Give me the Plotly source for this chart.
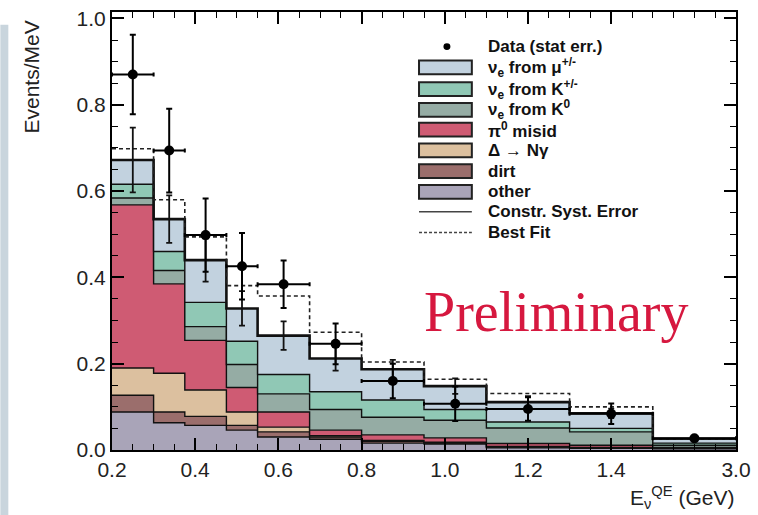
import numpy as np
import plotly.graph_objects as go

# ---------------- data ----------------
edges = [0.2, 0.3, 0.375, 0.475, 0.55, 0.675, 0.8, 0.95, 1.1, 1.3, 1.5, 3.0]

other = [0.088, 0.063, 0.057, 0.046, 0.030, 0.025, 0.016, 0.014, 0.005, 0.004, 0.003]
dirt  = [0.039, 0.025, 0.021, 0.011, 0.012, 0.005, 0.004, 0.002, 0.002, 0.001, 0.001]
delta = [0.063, 0.090, 0.061, 0.031, 0.011, 0.003, 0.002, 0.002, 0.001, 0.001, 0.000]
pi0   = [0.378, 0.207, 0.115, 0.057, 0.035, 0.013, 0.013, 0.010, 0.007, 0.005, 0.002]
k0    = [0.016, 0.031, 0.032, 0.053, 0.042, 0.048, 0.041, 0.041, 0.036, 0.031, 0.005]
kpm   = [0.032, 0.044, 0.056, 0.054, 0.045, 0.041, 0.040, 0.025, 0.014, 0.008, 0.005]
mu    = [0.056, 0.075, 0.098, 0.076, 0.090, 0.077, 0.071, 0.054, 0.046, 0.035, 0.010]

data_vals = [0.870, 0.694, 0.498, 0.426, 0.384, 0.246, 0.160, 0.107, 0.095, 0.084, 0.027]
data_err  = [0.092, 0.097, 0.085, 0.077, 0.055, 0.047, 0.040, 0.040, 0.027, 0.024, 0.005]
best_fit  = [0.698, 0.580, 0.494, 0.381, 0.357, 0.273, 0.204, 0.164, 0.131, 0.100, 0.026]
syst_err  = [0.075, 0.055, 0.050, 0.040, 0.033, 0.028, 0.022, 0.018, 0.014, 0.011, 0.004]

tick_labels = ["0.2", "0.4", "0.6", "0.8", "1.0", "1.2", "1.4", "3.0"]
tick_energies = [0.2, 0.4, 0.6, 0.8, 1.0, 1.2, 1.4, 3.0]

components = [
    ("other", other, "#a9a4b8"),
    ("dirt", dirt, "#9b6e6c"),
    ("Δ → Nγ", delta, "#dcc09f"),
    ("π<sup>0</sup> misid", pi0, "#cf5b73"),
    ("ν<sub>e</sub> from K<sup>0</sup>", k0, "#95aca4"),
    ("ν<sub>e</sub> from K<sup>+/-</sup>", kpm, "#90c8b5"),
    ("ν<sub>e</sub> from μ<sup>+/-</sup>", mu, "#c2d2df"),
]

# piecewise energy scale: last bin (1.5-3.0 GeV) compressed
def u(e):
    e = np.asarray(e, dtype=float)
    return np.where(e <= 1.5, e, 1.5 + (e - 1.5) * 0.2 / 1.5)

ue = u(edges)
centers = 0.5 * (ue[:-1] + ue[1:])
halfw = 0.5 * (ue[1:] - ue[:-1])

fig = go.Figure()

cum = np.zeros(len(other))
for i, (name, vals, col) in enumerate(components):
    cum = cum + np.array(vals)
    ys = list(cum) + [cum[-1]]
    is_top = (i == len(components) - 1)
    fig.add_trace(go.Scatter(
        x=ue, y=ys, mode="lines", line_shape="hv",
        line=dict(color="#111111", width=2.6 if is_top else 1.4),
        fill="tozeroy" if i == 0 else "tonexty", fillcolor=col,
        name=name, hoverinfo="skip"))

total = cum

# best fit dashed
fig.add_trace(go.Scatter(
    x=ue, y=list(best_fit) + [best_fit[-1]], mode="lines", line_shape="hv",
    line=dict(color="#222222", width=1.6, dash="4px,3px"),
    name="Best Fit", hoverinfo="skip"))

# constrained syst error bars on MC total
fig.add_trace(go.Scatter(
    x=centers, y=total, mode="markers", marker=dict(size=1, color="rgba(0,0,0,0)"),
    error_y=dict(type="data", array=syst_err, color="#111111", thickness=1.8, width=3),
    name="Constr. Syst. Error", hoverinfo="skip"))

# data
fig.add_trace(go.Scatter(
    x=centers, y=data_vals, mode="markers",
    marker=dict(color="black", size=10),
    error_y=dict(type="data", array=data_err, color="black", thickness=2, width=3),
    error_x=dict(type="data", array=halfw, color="black", thickness=2, width=2),
    name="Data (stat err.)"))

# ---------------- manual legend (pixel layout -> paper coords) ----------------
PL, PR, PT, PB = 112, 738, 7, 450
def px(xp):
    return (xp - PL) / (PR - PL)
def py(yp):
    return (PB - yp) / (PB - PT)

leg_font = dict(family="Liberation Sans", size=17, color="#111111", weight="bold")
text_x = 487
box_x0, box_x1 = 420, 473

def leg_text(label, yc):
    fig.add_annotation(text=label, xref="paper", yref="paper",
                       x=px(text_x), y=py(yc), xanchor="left", yanchor="middle",
                       showarrow=False, font=leg_font)

# data entry
fig.add_shape(type="circle", xref="paper", yref="paper",
              x0=px(444.5), x1=px(451.5), y0=py(45.5), y1=py(38.5),
              fillcolor="black", line=dict(color="black", width=0))
leg_text("Data (stat err.)", 42)

box_rows = [63, 85, 106, 126, 147, 168, 189]
for (name, vals, col), yc in zip(components[::-1], box_rows):
    fig.add_shape(type="rect", xref="paper", yref="paper",
                  x0=px(box_x0), x1=px(box_x1), y0=py(yc + 7), y1=py(yc - 7),
                  fillcolor=col, line=dict(color="#222222", width=2))
    leg_text(name, yc)

fig.add_shape(type="line", xref="paper", yref="paper",
              x0=px(box_x0), x1=px(box_x1), y0=py(209), y1=py(209),
              line=dict(color="#444444", width=1.5))
leg_text("Constr. Syst. Error", 209)
fig.add_shape(type="line", xref="paper", yref="paper",
              x0=px(box_x0), x1=px(box_x1), y0=py(230), y1=py(230),
              line=dict(color="#444444", width=1.5, dash="3px,2px"))
leg_text("Best Fit", 230)

# ---------------- other text ----------------
fig.add_annotation(text="Preliminary", xref="paper", yref="paper",
                   x=0.711, y=0.316, xanchor="center", yanchor="middle",
                   showarrow=False,
                   font=dict(family="Liberation Serif", size=56, color="#d6183f"))

fig.add_annotation(text="Events/MeV", xref="paper", yref="paper",
                   x=px(31), y=py(73), xanchor="center", yanchor="middle",
                   textangle=-90, showarrow=False,
                   font=dict(family="Liberation Sans", size=21, color="#222222"))

fig.add_annotation(text="E<sub>ν</sub><sup>QE</sup> (GeV)", xref="paper", yref="paper",
                   x=1.0, y=py(498), xanchor="right", yanchor="middle",
                   showarrow=False,
                   font=dict(family="Liberation Sans", size=21, color="#222222"))

# slide background strip at left
fig.add_shape(type="rect", xref="paper", yref="paper",
              x0=px(0), x1=px(8), y0=py(520), y1=py(20),
              fillcolor="#c9d5dd", line=dict(width=0), layer="below")

axis_common = dict(showline=True, linecolor="black", linewidth=2, mirror="ticks",
                   ticks="inside", tickcolor="black", showgrid=False, zeroline=False,
                   tickfont=dict(family="Liberation Sans", size=21, color="#222222"))

fig.update_xaxes(range=[0.2, 1.7], tickmode="array",
                 tickvals=list(u(tick_energies)), ticktext=tick_labels,
                 ticklen=12, tickwidth=1.5,
                 minor=dict(tickmode="linear", tick0=0.2, dtick=0.05, ticklen=6,
                            ticks="inside", tickcolor="black", tickwidth=1),
                 **axis_common)
fig.update_yaxes(range=[0, 1.015], tickmode="array",
                 tickvals=[0, 0.2, 0.4, 0.6, 0.8, 1.0],
                 ticktext=["0.0", "0.2", "0.4", "0.6", "0.8", "1.0"],
                 ticklen=12, tickwidth=1.5,
                 minor=dict(tickmode="linear", tick0=0, dtick=0.05, ticklen=6,
                            ticks="inside", tickcolor="black", tickwidth=1),
                 **axis_common)

fig.update_layout(
    width=758, height=515,
    margin=dict(l=PL, r=758 - PR, t=PT, b=515 - PB),
    plot_bgcolor="white", paper_bgcolor="white",
    showlegend=False,
)

fig.write_html("out.html")
